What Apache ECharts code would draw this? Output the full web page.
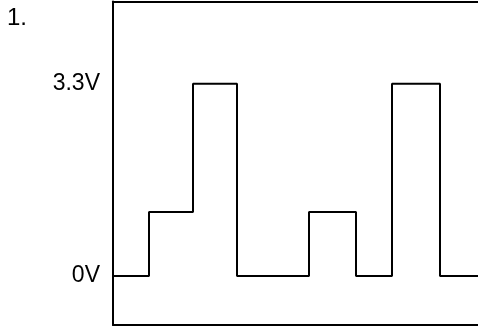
<!DOCTYPE html>
<html>
<head>
<meta charset="utf-8">
<script src="https://cdn.jsdelivr.net/npm/echarts@6/dist/echarts.min.js"></script>
<style>
html, body { margin: 0; padding: 0; background: #fff; }
#main { width: 478px; height: 329px; }
</style>
</head>
<body>
<div id="main"></div>
<script>
// signal steps: time where each level starts, and the level in volts
var times = [0, 36, 80, 124, 196, 243, 279, 327, 365];
var volts = [0, 1.1, 3.3, 0, 1.1, 0, 3.3, 0, 0];
var voltTicks = [0, 3.3];
var panelLabel = '1.';

var myChart = echarts.init(document.getElementById('main'));

var points = [];
for (var i = 0; i < times.length; i++) {
    points.push([times[i], volts[i]]);
}

var font = 'Liberation Sans, Arial, Helvetica, sans-serif';

option = {
    backgroundColor: '#fff',
    animation: false,
    grid: { left: 113, right: 0, top: 1.5, bottom: 4 },
    graphic: [{
        type: 'text',
        left: 7,
        top: 6,
        style: { text: panelLabel, fontSize: 24, fontFamily: font, fill: '#000' }
    }],
    xAxis: [{
        type: 'value',
        min: 0,
        max: 365,
        axisLine: { show: true, onZero: false, lineStyle: { color: '#000', width: 2 } },
        axisTick: { show: false },
        axisLabel: { show: false },
        splitLine: { show: false }
    }, {
        type: 'value',
        position: 'top',
        min: 0,
        max: 365,
        axisLine: { show: true, onZero: false, lineStyle: { color: '#000', width: 2 } },
        axisTick: { show: false },
        axisLabel: { show: false },
        splitLine: { show: false }
    }],
    yAxis: {
        type: 'value',
        min: -0.84,
        max: 4.71,
        axisLine: { show: true, lineStyle: { color: '#000', width: 2 } },
        axisTick: { show: false },
        splitLine: { show: false },
        axisLabel: {
            customValues: voltTicks,
            margin: 13,
            fontSize: 23,
            fontFamily: font,
            color: '#000',
            formatter: function (v) { return v + 'V'; }
        }
    },
    series: [{
        type: 'line',
        step: 'end',
        data: points,
        symbol: 'none',
        lineStyle: { color: '#000', width: 2 }
    }]
};

myChart.setOption(option);
</script>
</body>
</html>
